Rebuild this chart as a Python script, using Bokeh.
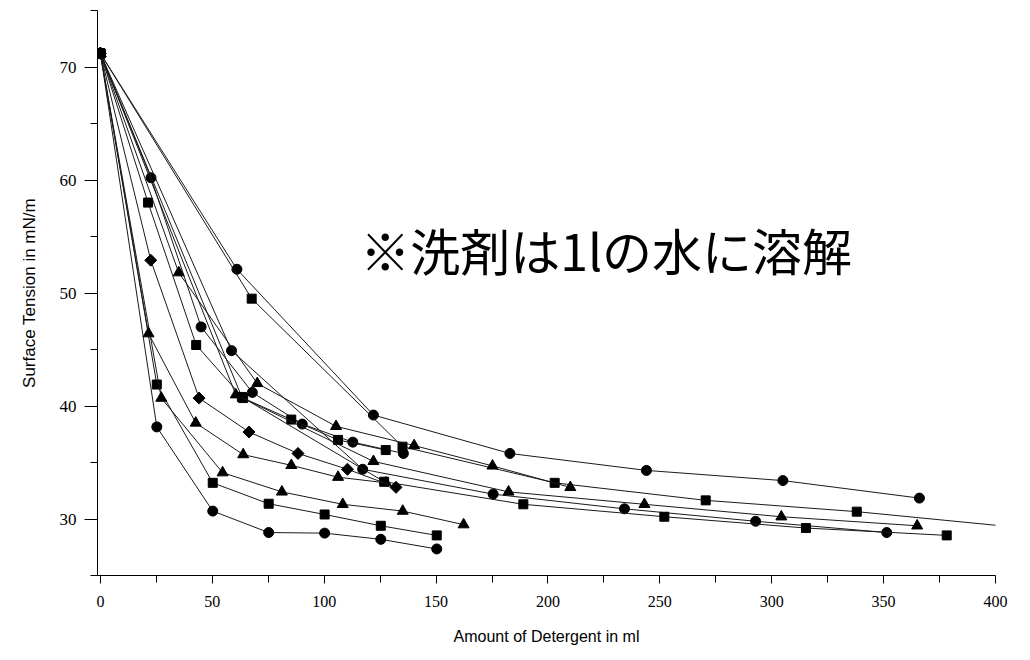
import math
from bokeh.plotting import figure
from bokeh.models import FixedTicker, Label, Range1d
from bokeh.embed import file_html
from bokeh.resources import INLINE

# ---- data ----
a_x = [0, 61, 122, 183, 244, 305, 366]
a_y = [71.2, 52.1, 39.2, 35.8, 34.3, 33.4, 31.85]
b_x = [0, 67.6, 135, 203, 270.5, 338, 405.6]
b_y = [71.2, 49.5, 36.4, 33.2, 31.65, 30.65, 29.34]
c1_x = [0, 25.2, 50.2, 75.2, 100.2, 125.3, 150.3]
c1_y = [71.2, 38.15, 30.7, 28.8, 28.75, 28.2, 27.35]
c2_x = [0, 22.6, 45, 67.9, 90.2, 112.8, 135.4]
c2_y = [71.2, 60.2, 47.0, 41.2, 38.4, 36.8, 35.8]
c3_x = [0, 58.6, 117.2, 175.5, 234.2, 292.8, 351.4]
c3_y = [71.2, 44.9, 34.4, 32.2, 30.9, 29.8, 28.8]
s1_x = [0, 25.2, 50.2, 75.2, 100.2, 125.3, 150.3]
s1_y = [71.2, 41.9, 33.2, 31.35, 30.4, 29.4, 28.55]
s2_x = [0, 21.3, 42.8, 63.8, 85.3, 106.2, 127.5]
s2_y = [71.2, 58.0, 45.4, 40.7, 38.8, 37.0, 36.1]
s3_x = [0, 63.2, 126.8, 189, 252, 315.3, 378.2]
s3_y = [71.2, 40.8, 33.3, 31.3, 30.2, 29.2, 28.55]
t1_x = [0, 27.2, 54.6, 81.1, 108.3, 135.1, 162.3]
t1_y = [71.2, 40.7, 34.1, 32.4, 31.3, 30.7, 29.5]
t2_x = [0, 21.5, 42.6, 63.8, 85.3, 106.2, 127.6]
t2_y = [71.2, 46.4, 38.5, 35.7, 34.75, 33.7, 33.2]
t3_x = [0, 35, 70.1, 105.3, 140.2, 175.2, 210]
t3_y = [71.2, 51.8, 42.0, 38.2, 36.5, 34.7, 32.8]
t4_x = [0, 60.5, 122, 182.4, 243.1, 304.3, 365]
t4_y = [71.2, 41.0, 35.1, 32.4, 31.3, 30.2, 29.4]
d_x = [0, 22.5, 44.1, 66.4, 88.3, 110.4, 132.1]
d_y = [71.2, 52.9, 40.7, 37.7, 35.8, 34.4, 32.8]

series = [
    (a_x, a_y, "circle"), (b_x, b_y, "square"),
    (c1_x, c1_y, "circle"), (c2_x, c2_y, "circle"), (c3_x, c3_y, "circle"),
    (s1_x, s1_y, "square"), (s2_x, s2_y, "square"), (s3_x, s3_y, "square"),
    (t1_x, t1_y, "triangle"), (t2_x, t2_y, "triangle"), (t3_x, t3_y, "triangle"),
    (t4_x, t4_y, "triangle"), (d_x, d_y, "diamond"),
]

x_major = [0, 50, 100, 150, 200, 250, 300, 350, 400]
x_minor = [25, 75, 125, 175, 225, 275, 325, 375]
y_major = [30, 40, 50, 60, 70]
y_minor = [25, 35, 45, 55, 65, 75]

x_title = "Amount of Detergent in ml"
y_title = "Surface Tension in mN/m"
note = "※洗剤は1lの水に溶解"

p = figure(width=1030, height=660, output_backend="svg", toolbar_location=None,
           x_range=Range1d(-1.3, 400), y_range=Range1d(25, 75),
           min_border_left=97, min_border_right=35, min_border_top=10,
           min_border_bottom=85)
p.outline_line_color = None
p.xgrid.visible = False
p.ygrid.visible = False
p.background_fill_color = "white"
p.border_fill_color = "white"

for xs, ys, m in series:
    p.line(xs, ys, line_color="#1a1a1a", line_width=1)
    if m == "diamond":
        p.scatter(xs, ys, marker="square", angle=math.pi / 4, size=8.5,
                  fill_color="black", line_color="black")
    else:
        size = {"circle": 10, "square": 9, "triangle": 11}[m]
        p.scatter(xs, ys, marker=m, size=size, fill_color="black",
                  line_color="black")

for ax in (p.xaxis[0], p.yaxis[0]):
    ax.axis_line_color = "black"
    ax.major_tick_line_color = "black"
    ax.minor_tick_line_color = "black"
    ax.major_tick_in = 0
    ax.minor_tick_in = 0
    ax.major_label_text_font = "Liberation Serif"
    ax.major_label_text_color = "black"
    ax.axis_label_text_font = "Liberation Sans"
    ax.axis_label_text_font_style = "normal"
    ax.axis_label_text_color = "black"

p.xaxis[0].ticker = FixedTicker(ticks=x_major, minor_ticks=x_minor)
p.yaxis[0].ticker = FixedTicker(ticks=y_major, minor_ticks=y_minor)
p.xaxis[0].major_tick_out = 8
p.xaxis[0].minor_tick_out = 7
p.yaxis[0].major_tick_out = 13
p.yaxis[0].minor_tick_out = 7
p.xaxis[0].major_label_text_font_size = "16px"
p.yaxis[0].major_label_text_font_size = "17px"
p.xaxis[0].major_label_standoff = 12
p.yaxis[0].major_label_standoff = 8

p.xaxis[0].axis_label = x_title
p.yaxis[0].axis_label = y_title
p.xaxis[0].axis_label_text_font_size = "16px"
p.yaxis[0].axis_label_text_font_size = "17px"
p.xaxis[0].axis_label_standoff = 18
p.yaxis[0].axis_label_standoff = 18

p.add_layout(Label(x=226, y=53.9, text=note, text_align="center",
                   text_baseline="middle", text_font="Noto Sans CJK JP",
                   text_font_size="50px", text_color="black"))

open("out.html", "w").write(file_html(p, INLINE))
